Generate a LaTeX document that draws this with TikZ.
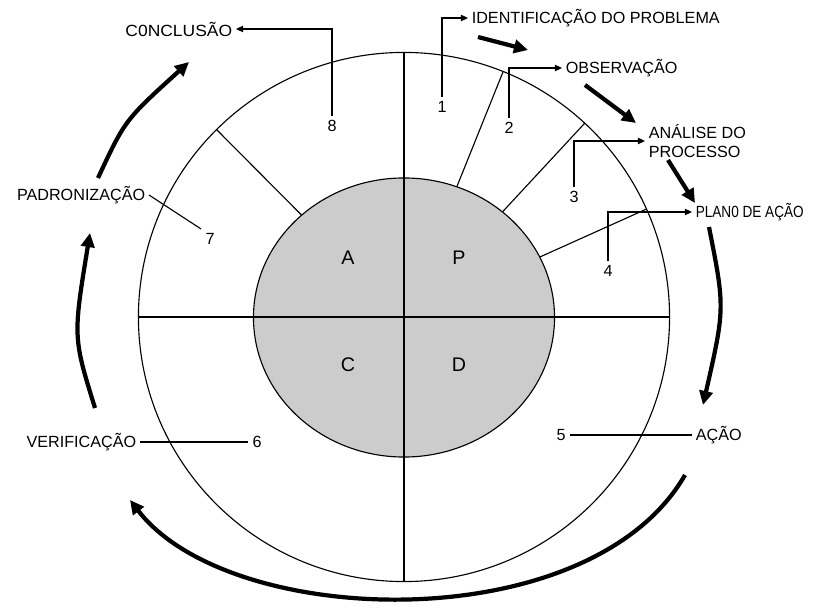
\documentclass[tikz,border=0pt]{standalone}
\usepackage{fontspec}
\setmainfont{Liberation Sans}
\usepackage{graphicx}
\usepackage{tikz}
\usetikzlibrary{shapes,arrows.meta,positioning}

\begin{document}
\begin{tikzpicture}[
    x=0.025cm, y=-0.025cm,
    ring/.style={ellipse, draw, inner sep=0pt, outer sep=0pt, line width=0.8pt},
    stage/.style={inner sep=2.5pt, font=\fontsize{11.5}{13.5}\selectfont},
    num/.style={inner sep=3pt, font=\fontsize{11.5}{13.5}\selectfont},
    quad/.style={inner sep=0pt, font=\fontsize{14}{16}\selectfont},
    leader/.style={line width=0.8pt},
    pointer/.style={line width=0.8pt, -{Triangle[length=5pt,width=4.5pt]}},
    cyclearrow/.style={line width=3pt, -{Triangle[length=10pt,width=9.5pt]}}
]
\useasboundingbox (0,0) rectangle (831,610);

% Outer ring and shaded PDCA disc
\node[ring, minimum width=13.275cm, minimum height=13.225cm] (outer) at (404,317) {};
\node[ring, fill=gray!40, minimum width=7.525cm, minimum height=6.975cm] (inner) at (404,317.5) {};

% Cross and spokes
\draw[line width=0.8pt] (outer.north) -- (outer.south);
\draw[line width=0.8pt] (outer.west) -- (outer.east);
\foreach \a in {24,47,68,135}
    \draw[line width=0.8pt] (inner.\a) -- (outer.\a);

% PDCA letters
\node[quad] (A) at (348,258) {A};
\node[quad] (P) at (459,258) {P};
\node[quad] (C) at (348,365) {C};
\node[quad] (D) at (459,365) {D};

% Stage labels
\node[stage, anchor=west] (ident) at (468,18) {IDENTIFICAÇÃO DO PROBLEMA};
\node[stage, anchor=west] (obs) at (562,68) {OBSERVAÇÃO};
\node[stage, anchor=west, align=left] (analise) at (645,141) {ANÁLISE DO\\PROCESSO};
\node[stage, anchor=west] (plano) at (692,212) {\scalebox{0.84}[1]{PLAN0 DE AÇÃO}};
\node[stage, anchor=west] (acao) at (692,435) {AÇÃO};
\node[stage, anchor=east] (verif) at (140,442) {VERIFICAÇÃO};
\node[stage, anchor=east] (padron) at (149,195) {PADRONIZAÇÃO};
\node[stage, anchor=east] (concl) at (236,29) {\scalebox{1.08}[1]{C0NCLUSÃO}};

% Step numbers
\node[num] (n1) at (442,107) {1};
\node[num] (n2) at (509,128) {2};
\node[num] (n3) at (574,197) {3};
\node[num] (n4) at (608,271) {4};
\node[num] (n5) at (561,435) {5};
\node[num] (n6) at (257,442) {6};
\node[num] (n7) at (210,239) {7};
\node[num] (n8) at (332,126) {8};

% Leader lines
\draw[pointer] (n1.north) |- (ident.west);
\draw[pointer] (n2.north) |- (obs.west);
\draw[pointer] (n3.north) |- (analise.west);
\draw[pointer] (n4.north) |- (plano.west);
\draw[leader] (n5.east) -- (acao.west);
\draw[leader, line width=1.3pt] (verif.east) -- (n6.west);
\draw[leader] (padron.east) -- (n7.north west);
\draw[pointer] (n8.north) |- (concl.east);

% Cycle arrows round the ring
\coordinate (s12) at (478,37);  \coordinate (e12) at (528,50);
\coordinate (s23) at (585,85);  \coordinate (e23) at (636,123);
\coordinate (s34) at (668,160); \coordinate (e34) at (695,203);
\coordinate (s45) at (709,227); \coordinate (e45) at (703,405);
\coordinate (s56) at (685,475); \coordinate (e56) at (130,500);
\coordinate (s67) at (95,408);  \coordinate (e67) at (90,233);
\coordinate (s78) at (98,178);  \coordinate (e78) at (189,62);
\draw[cyclearrow] (s12) -- (e12);
\draw[cyclearrow] (s23) -- (e23);
\draw[cyclearrow] (s34) -- (e34);
\draw[cyclearrow] (s45) .. controls (725,308) .. (e45);
\draw[cyclearrow] (s56) .. controls (590,640) and (230,630) .. (e56);
\draw[cyclearrow] (s67) .. controls (73,337) .. (e67);
\draw[cyclearrow] (s78) .. controls (125,120) .. (e78);

\end{tikzpicture}
\end{document}
